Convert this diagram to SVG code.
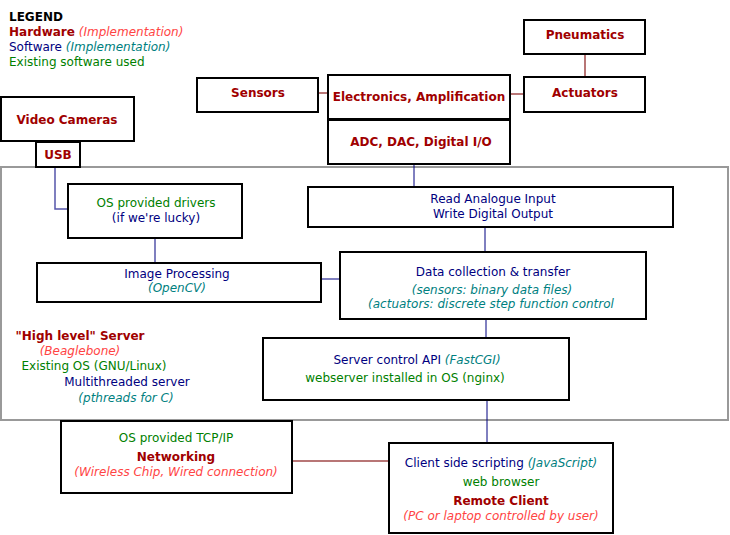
<svg xmlns="http://www.w3.org/2000/svg" width="730" height="535" viewBox="0 0 730 535">
<style>
text{font-family:"DejaVu Sans","Liberation Sans",sans-serif;font-size:12px}
.box{fill:#fff;stroke:#000;stroke-width:2}
.outer{fill:none;stroke:#999;stroke-width:2}
.hw{fill:#a00000;font-weight:bold;font-size:12px}
.hwi{fill:#ff4444;font-style:italic}
.sw{fill:#000080}
.swi{fill:#008080;font-style:italic}
.ex{fill:#008000}
.lgd{fill:#000;font-weight:bold}
.c{text-anchor:middle}
.lr{stroke:#a04848;stroke-width:1.5;fill:none}
.lb{stroke:#5555aa;stroke-width:1.5;fill:none}
.ln{stroke:#000080;stroke-width:1;fill:none}
</style>
<rect class="outer" x="1" y="167" width="727" height="253"/>
<g id="connectors">
<line class="lr" x1="318" y1="93" x2="328" y2="93"/>
<line class="lr" x1="510" y1="94" x2="524" y2="94"/>
<line class="lr" x1="585" y1="54" x2="585" y2="77"/>
<polyline class="lb" points="55,167 55,209 68,209"/>
<line class="lb" x1="155" y1="238" x2="155" y2="263"/>
<line class="lb" x1="321" y1="279" x2="340" y2="279"/>
<line class="ln" x1="414" y1="164" x2="414" y2="187"/>
<line class="ln" x1="485" y1="227" x2="485" y2="252"/>
<line class="ln" x1="486" y1="319" x2="486" y2="338"/>
<line class="ln" x1="487" y1="400" x2="487" y2="443"/>
<line class="lr" x1="292" y1="461" x2="389" y2="461"/>
</g>
<g id="legend">
<text x="9" y="21" class="lgd">LEGEND</text>
<text x="9" y="36"><tspan class="hw">Hardware</tspan> <tspan class="hwi">(Implementation)</tspan></text>
<text x="9" y="51"><tspan class="sw">Software</tspan> <tspan class="swi">(Implementation)</tspan></text>
<text x="9" y="66" class="ex">Existing software used</text>
</g>
<g id="video"><rect class="box" x="1" y="97" width="133" height="44"/><text x="67" y="124" class="hw c">Video Cameras</text></g>
<g id="usb"><rect class="box" x="36" y="142" width="44" height="25"/><text x="58" y="159" class="hw c">USB</text></g>
<g id="sensors"><rect class="box" x="197" y="78" width="121" height="34"/><text x="258" y="97" class="hw c">Sensors</text></g>
<g id="electronics"><rect class="box" x="328" y="75" width="182" height="44"/><text x="419" y="101" class="hw c">Electronics, Amplification</text></g>
<g id="adc"><rect class="box" x="328" y="120" width="182" height="44"/><text x="421" y="146" class="hw c">ADC, DAC, Digital I/O</text></g>
<g id="pneumatics"><rect class="box" x="524" y="20" width="121" height="34"/><text x="585" y="39" class="hw c">Pneumatics</text></g>
<g id="actuators"><rect class="box" x="524" y="77" width="121" height="35"/><text x="585" y="97" class="hw c">Actuators</text></g>
<g id="drivers"><rect class="box" x="68" y="184" width="174" height="54"/>
<text x="156" y="207" class="ex c">OS provided drivers</text>
<text x="156" y="222" class="sw c">(if we're lucky)</text></g>
<g id="imageproc"><rect class="box" x="37" y="263" width="284" height="39"/>
<text x="177" y="278" class="sw c">Image Processing</text>
<text x="177" y="292" class="swi c">(OpenCV)</text></g>
<g id="readio"><rect class="box" x="308" y="187" width="365" height="40"/>
<text x="493" y="203" class="sw c">Read Analogue Input</text>
<text x="493" y="218" class="sw c">Write Digital Output</text></g>
<g id="datacoll"><rect class="box" x="340" y="252" width="306" height="67"/>
<text x="493" y="276" class="sw c">Data collection &amp; transfer</text>
<text x="492" y="294" class="swi c">(sensors: binary data files)</text>
<text x="491" y="308" class="swi c">(actuators: discrete step function control</text></g>
<g id="server"><text x="80" y="340" class="c"><tspan class="hw">"High level" Server</tspan></text>
<text x="80" y="355" class="hwi c">(Beaglebone)</text>
<text x="94" y="370" class="ex c">Existing OS (GNU/Linux)</text>
<text x="127" y="386" class="sw c">Multithreaded server</text>
<text x="126" y="402" class="swi c">(pthreads for C)</text></g>
<g id="serverapi"><rect class="box" x="263" y="338" width="306" height="62"/>
<text x="417" y="364" class="c"><tspan class="sw">Server control API </tspan><tspan class="swi">(FastCGI)</tspan></text>
<text x="405" y="382" class="ex c">webserver installed in OS (nginx)</text></g>
<g id="networking"><rect class="box" x="61" y="421" width="231" height="72"/>
<text x="176" y="442" class="ex c">OS provided TCP/IP</text>
<text x="176" y="461" class="hw c">Networking</text>
<text x="176" y="476" class="hwi c">(Wireless Chip, Wired connection)</text></g>
<g id="client"><rect class="box" x="389" y="443" width="224" height="90"/>
<text x="501" y="467" class="c"><tspan class="sw">Client side scripting </tspan><tspan class="swi">(JavaScript)</tspan></text>
<text x="501" y="486" class="ex c">web browser</text>
<text x="501" y="505" class="hw c">Remote Client</text>
<text x="501" y="520" class="hwi c">(PC or laptop controlled by user)</text></g>
</svg>
